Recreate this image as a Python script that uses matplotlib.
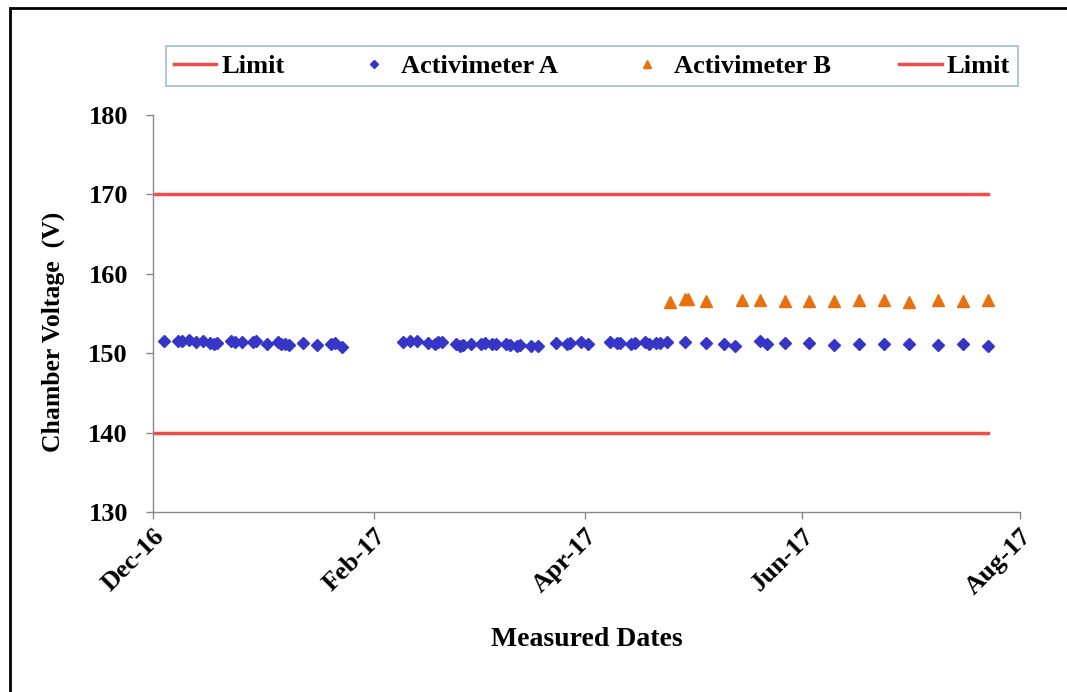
import matplotlib.pyplot as plt
import matplotlib.dates as mdates
from matplotlib.patches import Rectangle
import pandas as pd

# Activimeter A readings
dates_a = ["2016-12-04", "2016-12-08", "2016-12-09", "2016-12-11", "2016-12-13",
           "2016-12-15", "2016-12-17", "2016-12-18", "2016-12-19", "2016-12-23",
           "2016-12-24", "2016-12-26", "2016-12-29", "2016-12-30", "2017-01-02",
           "2017-01-05", "2017-01-06", "2017-01-07", "2017-01-08", "2017-01-12",
           "2017-01-16", "2017-01-20", "2017-01-21", "2017-01-23",
           "2017-02-09", "2017-02-11", "2017-02-13", "2017-02-16", "2017-02-18",
           "2017-02-19", "2017-02-20", "2017-02-24", "2017-02-25", "2017-02-26",
           "2017-02-28", "2017-03-03", "2017-03-04", "2017-03-06", "2017-03-07",
           "2017-03-10", "2017-03-11", "2017-03-13", "2017-03-14", "2017-03-17",
           "2017-03-19", "2017-03-24", "2017-03-27", "2017-03-28", "2017-03-31",
           "2017-04-02", "2017-04-08", "2017-04-10", "2017-04-11", "2017-04-14",
           "2017-04-15", "2017-04-18", "2017-04-19", "2017-04-21", "2017-04-22",
           "2017-04-24", "2017-04-29", "2017-05-05", "2017-05-10", "2017-05-13",
           "2017-05-20", "2017-05-22", "2017-05-27", "2017-06-03", "2017-06-10",
           "2017-06-17", "2017-06-24", "2017-07-01", "2017-07-09", "2017-07-16",
           "2017-07-23"]
volt_a = [151.5, 151.5, 151.5, 151.6, 151.4,
          151.5, 151.3, 151.2, 151.3, 151.5,
          151.4, 151.4, 151.4, 151.5, 151.2,
          151.4, 151.2, 151.1, 151.0, 151.3,
          151.0, 151.2, 151.3, 150.8,
          151.4, 151.5, 151.5, 151.3, 151.2,
          151.4, 151.4, 151.1, 150.9, 151.0,
          151.2, 151.2, 151.3, 151.1, 151.2,
          151.2, 151.0, 150.9, 151.0, 150.9,
          150.9, 151.3, 151.1, 151.3, 151.4,
          151.1, 151.4, 151.3, 151.3, 151.1,
          151.3, 151.4, 151.1, 151.3, 151.3,
          151.4, 151.4, 151.3, 151.1, 150.9,
          151.5, 151.1, 151.3, 151.3, 151.0,
          151.1, 151.1, 151.1, 151.0, 151.1,
          150.9]

# Activimeter B readings
dates_b = ["2017-04-25", "2017-04-29", "2017-04-30", "2017-05-05", "2017-05-15",
           "2017-05-20", "2017-05-27", "2017-06-03", "2017-06-10", "2017-06-17",
           "2017-06-24", "2017-07-01", "2017-07-09", "2017-07-16", "2017-07-23"]
volt_b = [156.5, 156.8, 156.8, 156.6, 156.7,
          156.7, 156.6, 156.6, 156.6, 156.7,
          156.7, 156.5, 156.7, 156.6, 156.7]

limit_dates = ["2016-12-01", "2017-07-23"]
upper_limit = [170, 170]
lower_limit = [140, 140]

dates_a = pd.to_datetime(dates_a)
dates_b = pd.to_datetime(dates_b)
limit_dates = pd.to_datetime(limit_dates)

plt.rcParams['font.family'] = ['Liberation Serif', 'DejaVu Serif']
plt.rcParams['font.weight'] = 'bold'

fig = plt.figure(figsize=(10.67, 6.92), dpi=100)
ax = fig.add_axes([153 / 1067, 1 - 512 / 692, 867 / 1067, 397 / 692])

red = '#f24b4b'
l1, = ax.plot(limit_dates, upper_limit, color=red, lw=2.5, label='Limit')
pa, = ax.plot(dates_a, volt_a, 'D', color='#3535c8', ms=6.5, ls='none', label='Activimeter A')
pb, = ax.plot(dates_b, volt_b, '^', color='#e8700f', ms=8.5, ls='none', label='Activimeter B')
l2, = ax.plot(limit_dates, lower_limit, color=red, lw=2.5, label='Limit')

ax.set_ylim(130, 180)
ax.set_yticks([130, 140, 150, 160, 170, 180])
ax.set_xlim(pd.Timestamp("2016-12-01"), pd.Timestamp("2017-08-01"))
ax.xaxis.set_major_locator(mdates.MonthLocator(bymonth=[2, 4, 6, 8, 12]))
ax.xaxis.set_major_formatter(mdates.DateFormatter('%b-%y'))

for s in ['top', 'right']:
    ax.spines[s].set_visible(False)
for s in ['left', 'bottom']:
    ax.spines[s].set_color('#888888')
    ax.spines[s].set_linewidth(1)
ax.tick_params(axis='both', colors='#888888', length=5, width=1, labelcolor='black')
ax.tick_params(axis='y', labelsize=19, pad=13)
ax.tick_params(axis='x', labelsize=19, pad=4)
for lab in ax.get_xticklabels():
    lab.set_rotation(45)
    lab.set_ha('right')
    lab.set_rotation_mode('anchor')

ax.set_ylabel('Chamber Voltage  (V)', fontsize=18.5, fontweight='bold')
ax.yaxis.set_label_coords(-0.102, 0.453)
ax.set_xlabel('Measured Dates', fontsize=20, fontweight='bold', labelpad=20)

leg = fig.legend(handles=[l1, pa, pb, l2], loc='center',
                 bbox_to_anchor=(592 / 1067, 1 - 66 / 692), ncol=4,
                 fontsize=19, frameon=True, fancybox=False,
                 handlelength=1.6, handletextpad=0.2, columnspacing=2.6,
                 borderpad=0.3, borderaxespad=0, markerscale=0.7)
leg.get_frame().set_edgecolor('#8fa8d0')
leg.get_frame().set_linewidth(1.2)

# outer frame
fig.patches.append(Rectangle((10 / 1067, -0.1), 1.2, 1 - 8 / 692 + 0.1,
                             transform=fig.transFigure, fill=False,
                             edgecolor='black', linewidth=2))

fig.savefig('out.png', dpi=100)
